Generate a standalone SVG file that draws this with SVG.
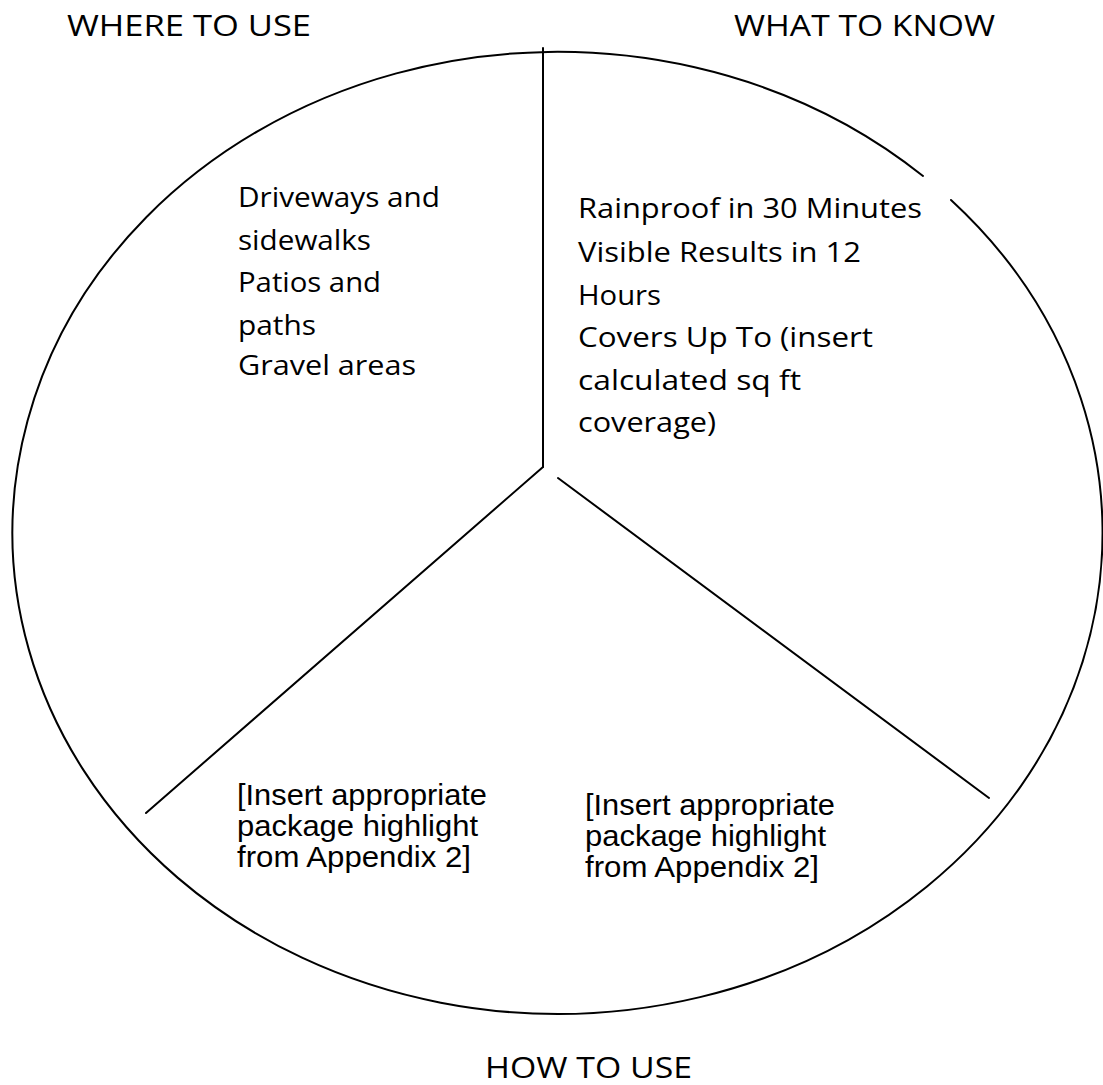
<svg xmlns="http://www.w3.org/2000/svg" width="1103" height="1085" viewBox="0 0 1103 1085">
<style>
.ln{fill:none;stroke:#000;stroke-width:2;stroke-linecap:round}
.hd{font-family:"Open Sans","DejaVu Sans",sans-serif;font-size:29px;fill:#000}
.cm{font-family:"Open Sans","DejaVu Sans",sans-serif;font-size:28px;fill:#000}
.ar{font-family:"Liberation Sans",Arial,sans-serif;font-size:30px;fill:#000}
</style>
<rect width="1103" height="1085" fill="#fff"/>
<g id="connectors">
<path class="ln" d="M951,200 A545,481 0 1 1 923,176"/>
<line class="ln" x1="543" y1="48" x2="543" y2="467"/>
<line class="ln" x1="543" y1="467" x2="146" y2="813"/>
<line class="ln" x1="558" y1="478" x2="989" y2="798"/>
</g>
<g id="where-to-use">
<text class="hd" x="67" y="36" textLength="244" lengthAdjust="spacingAndGlyphs">WHERE TO USE</text>
<text class="cm" x="238" y="207" textLength="202" lengthAdjust="spacingAndGlyphs">Driveways and</text>
<text class="cm" x="238" y="250" textLength="133" lengthAdjust="spacingAndGlyphs">sidewalks</text>
<text class="cm" x="238" y="292" textLength="143" lengthAdjust="spacingAndGlyphs">Patios and</text>
<text class="cm" x="238" y="335" textLength="78" lengthAdjust="spacingAndGlyphs">paths</text>
<text class="cm" x="238" y="375" textLength="178" lengthAdjust="spacingAndGlyphs">Gravel areas</text>
</g>
<g id="what-to-know">
<text class="hd" x="734" y="36" textLength="261" lengthAdjust="spacingAndGlyphs">WHAT TO KNOW</text>
<text class="cm" x="578" y="218" textLength="344" lengthAdjust="spacingAndGlyphs">Rainproof in 30 Minutes</text>
<text class="cm" x="578" y="262" textLength="283" lengthAdjust="spacingAndGlyphs">Visible Results in 12</text>
<text class="cm" x="578" y="305" textLength="83" lengthAdjust="spacingAndGlyphs">Hours</text>
<text class="cm" x="578" y="347" textLength="295" lengthAdjust="spacingAndGlyphs">Covers Up To (insert</text>
<text class="cm" x="578" y="390" textLength="223" lengthAdjust="spacingAndGlyphs">calculated sq ft</text>
<text class="cm" x="578" y="432" textLength="138" lengthAdjust="spacingAndGlyphs">coverage)</text>
</g>
<g id="how-to-use">
<text class="hd" x="485" y="1078" textLength="207" lengthAdjust="spacingAndGlyphs">HOW TO USE</text>
<text class="ar" x="237" y="805" textLength="250" lengthAdjust="spacingAndGlyphs">[Insert appropriate</text>
<text class="ar" x="237" y="836" textLength="241" lengthAdjust="spacingAndGlyphs">package highlight</text>
<text class="ar" x="237" y="867" textLength="234" lengthAdjust="spacingAndGlyphs">from Appendix 2]</text>
<text class="ar" x="585" y="815" textLength="250" lengthAdjust="spacingAndGlyphs">[Insert appropriate</text>
<text class="ar" x="585" y="846" textLength="241" lengthAdjust="spacingAndGlyphs">package highlight</text>
<text class="ar" x="585" y="877" textLength="234" lengthAdjust="spacingAndGlyphs">from Appendix 2]</text>
</g>
</svg>
